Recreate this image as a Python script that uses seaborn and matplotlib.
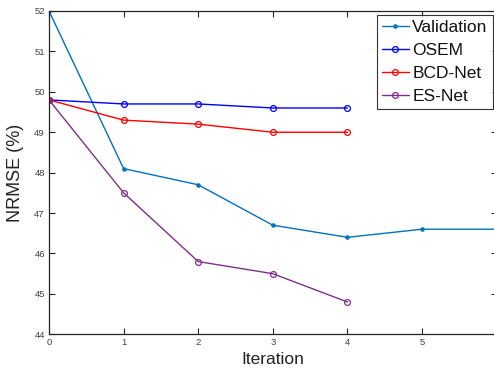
import matplotlib
matplotlib.use("Agg")
import matplotlib.pyplot as plt
import seaborn as sns
import pandas as pd

sns.set_style("ticks")
plt.rcParams['font.family'] = ['Liberation Sans', 'DejaVu Sans']

iters_val = [0, 1, 2, 3, 4, 5, 6]
validation = [52.0, 48.1, 47.7, 46.7, 46.4, 46.6, 46.6]
iters = [0, 1, 2, 3, 4]
osem = [49.8, 49.7, 49.7, 49.6, 49.6]
bcd_net = [49.8, 49.3, 49.2, 49.0, 49.0]
es_net = [49.8, 47.5, 45.8, 45.5, 44.8]

names = ["Validation", "OSEM", "BCD-Net", "ES-Net"]
colors = ["#0072BD", "#0000FF", "#FF0000", "#7E2F8E"]

df = pd.concat([
    pd.DataFrame({"Iteration": iters_val, "NRMSE": validation, "Method": "Validation"}),
    pd.DataFrame({"Iteration": iters, "NRMSE": osem, "Method": "OSEM"}),
    pd.DataFrame({"Iteration": iters, "NRMSE": bcd_net, "Method": "BCD-Net"}),
    pd.DataFrame({"Iteration": iters, "NRMSE": es_net, "Method": "ES-Net"}),
])

fig = plt.figure(figsize=(4.94, 3.70), dpi=100)
ax = fig.add_axes([49/494, 1-334.3/370, 447.6/494, (334.3-11)/370])

for name, c in zip(names, colors):
    sub = df[df["Method"] == name]
    if name == "Validation":
        sns.lineplot(data=sub, x="Iteration", y="NRMSE", ax=ax, color=c, lw=1.0,
                     marker=".", markersize=5, markeredgecolor=c, markerfacecolor=c, label=name)
    else:
        sns.lineplot(data=sub, x="Iteration", y="NRMSE", ax=ax, color=c, lw=1.0,
                     marker="o", markersize=4.2, markeredgecolor=c, markerfacecolor="none",
                     markeredgewidth=0.9, label=name)

ax.set_xlim(0, 6)
ax.set_ylim(44, 52)
ax.set_xticks(range(0, 7))
ax.set_yticks(range(44, 53))
ax.tick_params(direction="in", labelsize=6.8, labelcolor="#404040", length=4, width=0.8,
               top=True, right=True, pad=3)
for s in ax.spines.values():
    s.set_linewidth(0.9)
    s.set_color("#262626")
ax.set_xlabel("Iteration", fontsize=12.5, labelpad=3, color="#222222")
ax.set_ylabel("NRMSE (%)", fontsize=13, labelpad=7, color="#222222")

leg = ax.legend(loc="upper right", bbox_to_anchor=((493 - 49) / 447.6, 1 - 4 / 323.3),
                fontsize=12.5, frameon=True, fancybox=False, edgecolor="black",
                handlelength=1.55, handletextpad=0.2, borderpad=0.3, labelspacing=0.45,
                borderaxespad=0)
leg.get_frame().set_linewidth(0.8)
for t in leg.get_texts():
    t.set_color("#111111")

fig.savefig("out.png", dpi=100)
